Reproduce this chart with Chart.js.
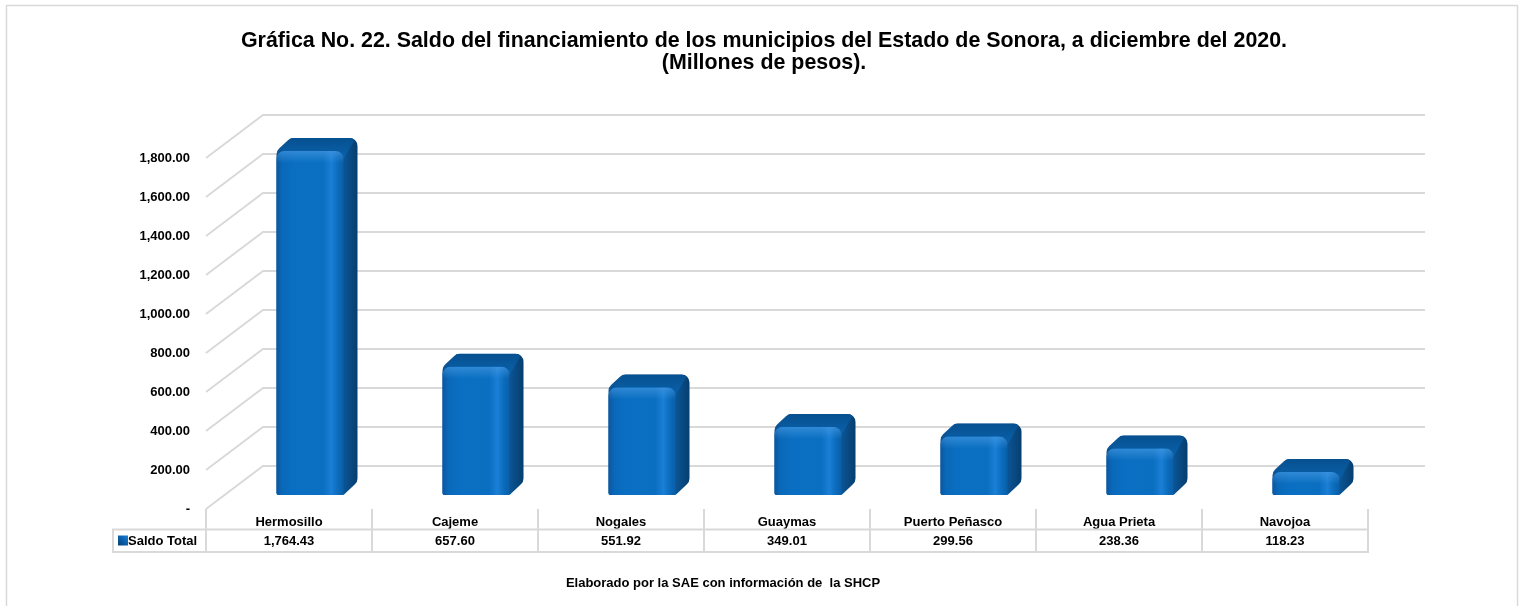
<!DOCTYPE html>
<html>
<head>
<meta charset="utf-8">
<script src="https://cdn.jsdelivr.net/npm/chart.js@4/dist/chart.umd.min.js"></script>
<style>
  html, body { margin: 0; padding: 0; background: #ffffff; }
  #wrap { width: 1525px; height: 606px; position: relative; }
</style>
</head>
<body>
<div id="wrap"><canvas id="c" width="1525" height="606"></canvas></div>
<script>
// ---- Data ----
const categories = ['Hermosillo', 'Cajeme', 'Nogales', 'Guaymas', 'Puerto Peñasco', 'Agua Prieta', 'Navojoa'];
const saldoTotal = [1764.43, 657.60, 551.92, 349.01, 299.56, 238.36, 118.23];
const seriesName = 'Saldo Total';
const yTickValues = [0, 200, 400, 600, 800, 1000, 1200, 1400, 1600, 1800];
const titleLines = [
  'Gráfica No. 22. Saldo del financiamiento de los municipios del Estado de Sonora, a diciembre del 2020.',
  '(Millones de pesos).'
];
const footerText = 'Elaborado por la SAE con información de  la SHCP';

// ---- Style constants ----
const FONT = '"Liberation Sans", Arial, Helvetica, sans-serif';
const GRID = '#d9d9d9';
const WALL_DX = 57, WALL_DY = -43;     // depth of side wall / floor
const BAR_DX = 21, BAR_DY = -14;       // bar placement in depth
const SIDE_DX = 14, SIDE_DY = -13;     // bar depth
const RADIUS = 8;

const fmt = v => v.toLocaleString('en-US', { minimumFractionDigits: 2, maximumFractionDigits: 2 });

Chart.defaults.font.family = FONT;
Chart.defaults.color = '#000';

function roundedPoly(ctx, pts, r) {
  const n = pts.length;
  ctx.beginPath();
  const mid = (a, b) => [(a[0] + b[0]) / 2, (a[1] + b[1]) / 2];
  const start = mid(pts[n - 1], pts[0]);
  ctx.moveTo(start[0], start[1]);
  for (let i = 0; i < n; i++) {
    const p = pts[i], q = pts[(i + 1) % n];
    const rr = Array.isArray(r) ? r[i] : r;
    ctx.arcTo(p[0], p[1], q[0], q[1], rr);
  }
  ctx.closePath();
}

const threeD = {
  id: 'threeD',
  beforeDatasetsDraw(chart) {
    const ctx = chart.ctx;
    const ys = chart.scales.y;
    const area = chart.chartArea;
    ctx.save();
    // title
    ctx.fillStyle = '#000';
    ctx.textAlign = 'center';
    ctx.textBaseline = 'middle';
    ctx.font = 'bold 21.4px ' + FONT;
    ctx.fillText(titleLines[0], 764, 41);
    ctx.fillText(titleLines[1], 764, 63);

    // walls
    ctx.strokeStyle = GRID;
    ctx.lineWidth = 2;
    yTickValues.forEach(v => {
      const y = Math.round(ys.getPixelForValue(v));
      ctx.beginPath();
      ctx.moveTo(area.left, y);
      ctx.lineTo(area.left + WALL_DX, y + WALL_DY);
      ctx.lineTo(area.right + WALL_DX, y + WALL_DY);
      ctx.stroke();
    });
    ctx.restore();
  },
  afterDatasetsDraw(chart) {
    const ctx = chart.ctx;
    const meta = chart.getDatasetMeta(0);
    ctx.save();
    meta.data.forEach(el => {
      const p = el.getProps(['x', 'y', 'base', 'width'], true);
      const x0 = p.x - p.width / 2 + BAR_DX;
      const x1 = p.x + p.width / 2 + BAR_DX;
      const yT = p.y + BAR_DY;
      const yB = p.base + BAR_DY;
      const h = yB - yT;
      const r = Math.min(RADIUS, h / 2);
      // silhouette
      const sil = [
        [x0, yB], [x0, yT], [x0 + SIDE_DX, yT + SIDE_DY], [x1 + SIDE_DX, yT + SIDE_DY],
        [x1 + SIDE_DX, yB + SIDE_DY], [x1, yB]
      ];
      roundedPoly(ctx, sil, [2, r, r, r, r, 3]);
      const sg = ctx.createLinearGradient(x1, 0, x1 + SIDE_DX, 0);
      sg.addColorStop(0, '#0b5596');
      sg.addColorStop(1, '#063e6e');
      ctx.fillStyle = sg;
      ctx.fill();
      // top face
      ctx.save();
      roundedPoly(ctx, sil, [2, r, r, r, r, 3]);
      ctx.clip();
      const top = [[x0, yT + r], [x0 + SIDE_DX, yT + SIDE_DY], [x1 + SIDE_DX - 2, yT + SIDE_DY], [x1, yT + r]];
      ctx.beginPath();
      ctx.moveTo(top[0][0], top[0][1]);
      top.forEach(q => ctx.lineTo(q[0], q[1]));
      ctx.closePath();
      const tg = ctx.createLinearGradient(0, yT + SIDE_DY, 0, yT + r);
      tg.addColorStop(0, '#06508f');
      tg.addColorStop(1, '#0a62ad');
      ctx.fillStyle = tg;
      ctx.fill();
      ctx.restore();
      // front face
      roundedPoly(ctx, [[x0, yB], [x0, yT], [x1, yT], [x1, yB]], [2, r, r, 1]);
      const fg = ctx.createLinearGradient(x0, 0, x1, 0);
      fg.addColorStop(0, '#0a56a0');
      fg.addColorStop(0.08, '#0a68b8');
      fg.addColorStop(0.25, '#0a6fc2');
      fg.addColorStop(0.7, '#0b6fc1');
      fg.addColorStop(0.82, '#1a7fd6');
      fg.addColorStop(0.92, '#0b6bbb');
      fg.addColorStop(1, '#0a5ea8');
      ctx.fillStyle = fg;
      ctx.fill();
      // subtle top highlight
      ctx.save();
      roundedPoly(ctx, [[x0, yB], [x0, yT], [x1, yT], [x1, yB]], [2, r, r, 1]);
      ctx.clip();
      const hg = ctx.createLinearGradient(0, yT, 0, yT + 12);
      hg.addColorStop(0, 'rgba(80,160,230,0.55)');
      hg.addColorStop(1, 'rgba(80,160,230,0)');
      ctx.fillStyle = hg;
      ctx.fillRect(x0, yT, x1 - x0, 12);
      ctx.restore();
    });
    ctx.restore();

    // ---- data table ----
    const xs = chart.scales.x;
    const area = chart.chartArea;
    const n = categories.length;
    const cw = (area.right - area.left) / n;
    const rowMid = 529.5, rowBot = 552, legendLeft = 113;
    ctx.save();
    ctx.strokeStyle = GRID;
    ctx.lineWidth = 2;
    ctx.beginPath();
    for (let i = 0; i <= n; i++) {
      const x = Math.round(area.left + i * cw);
      ctx.moveTo(x, area.bottom);
      ctx.lineTo(x, rowBot);
    }
    ctx.moveTo(legendLeft, rowMid); ctx.lineTo(area.right + 1, rowMid);
    ctx.moveTo(legendLeft, rowBot); ctx.lineTo(area.right + 1, rowBot);
    ctx.moveTo(legendLeft, rowMid - 1); ctx.lineTo(legendLeft, rowBot + 1);
    ctx.stroke();

    // legend key
    const kg = ctx.createLinearGradient(118, 546, 128, 536);
    kg.addColorStop(0, '#063e6e');
    kg.addColorStop(0.5, '#0a5ea8');
    kg.addColorStop(1, '#1a7fd6');
    ctx.fillStyle = kg;
    ctx.fillRect(118, 535.5, 10, 10);

    ctx.fillStyle = '#000';
    ctx.font = 'bold 13px ' + FONT;
    ctx.textBaseline = 'middle';
    ctx.textAlign = 'left';
    ctx.fillText(seriesName, 128, 541);
    ctx.textAlign = 'center';
    saldoTotal.forEach((v, i) => {
      ctx.fillText(fmt(v), xs.getPixelForValue(i), 541);
    });

    // footer
    ctx.font = 'bold 13px ' + FONT;
    ctx.fillText(footerText, 723, 583);

    // outer border
    ctx.strokeStyle = GRID;
    ctx.lineWidth = 1.5;
    ctx.beginPath();
    ctx.moveTo(6.5, 620); ctx.lineTo(6.5, 5.5); ctx.lineTo(1517.5, 5.5); ctx.lineTo(1517.5, 620);
    ctx.stroke();
    ctx.restore();
  }
};

new Chart(document.getElementById('c'), {
  type: 'bar',
  data: {
    labels: categories,
    datasets: [{
      label: seriesName,
      data: saldoTotal,
      backgroundColor: 'rgba(0,0,0,0)',
      borderWidth: 0,
      barThickness: 67
    }]
  },
  options: {
    responsive: false,
    animation: false,
    events: [],
    layout: { padding: { left: 0, right: 157, top: 158, bottom: 0 } },
    plugins: {
      legend: { display: false },
      tooltip: { enabled: false },
      title: { display: false }
    },
    scales: {
      x: {
        type: 'category',
        grid: { display: false, drawTicks: false },
        border: { display: false },
        ticks: {
          font: { size: 13, weight: 'bold', family: FONT },
          color: '#000',
          padding: 6,
          maxRotation: 0,
          autoSkip: false
        },
        afterFit(s) { s.height = 97; }
      },
      y: {
        min: 0,
        max: 1800,
        grid: { display: false, drawTicks: false },
        border: { display: false },
        afterBuildTicks(s) { s.ticks = yTickValues.map(v => ({ value: v })); },
        ticks: {
          font: { size: 13, weight: 'bold', family: FONT },
          color: '#000',
          padding: 16,
          callback: v => v === 0 ? '-' : fmt(v)
        },
        afterFit(s) { s.width = 206; }
      }
    }
  },
  plugins: [threeD]
});
</script>
</body>
</html>
